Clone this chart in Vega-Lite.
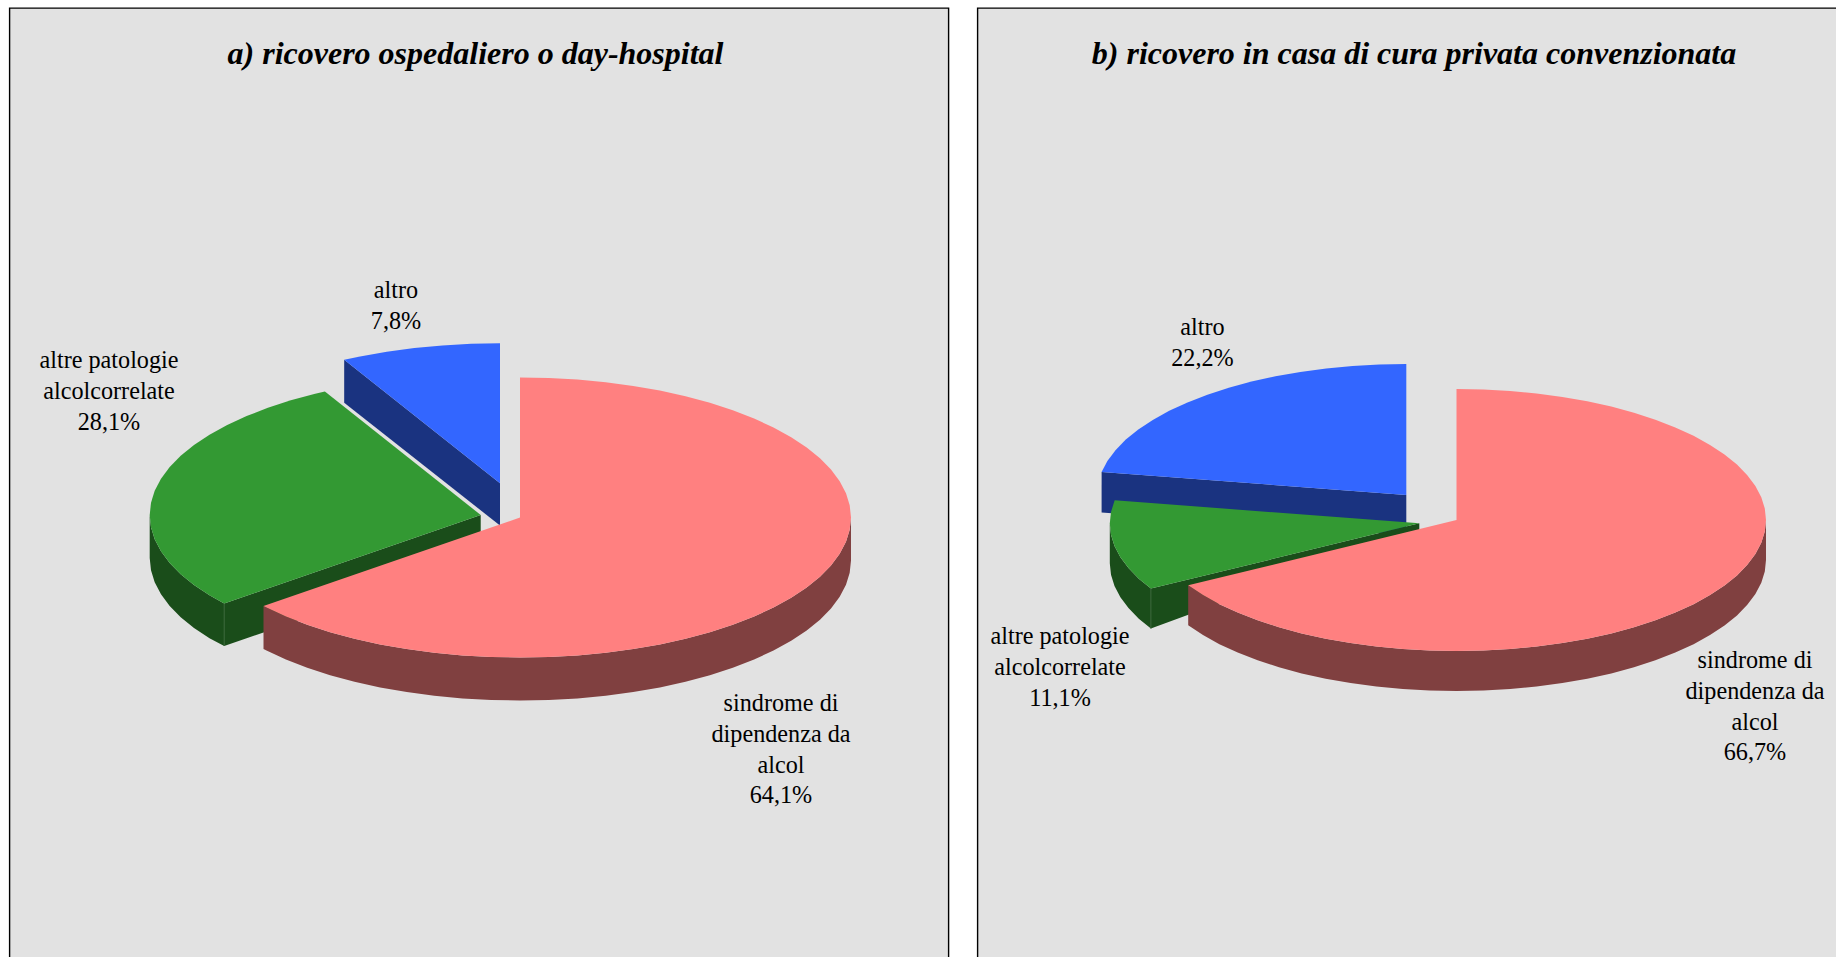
{
"$schema":"https://vega.github.io/schema/vega-lite/v6.json",
"padding":{"left":8.5,"top":7,"right":0,"bottom":0},
"background":"white",
"spacing":27,
"config":{"view":{"fill":"#E2E2E2","stroke":"#000000","strokeWidth":1.4},"concat":{"spacing":27}},
"datasets":{
"fette":[
{"p":"a","f":"altro","n":0,"x":500,"y":483.3},{"p":"a","f":"altro","n":1,"x":344.2,"y":359.8},{"p":"a","f":"altro","n":2,"x":360.1,"y":356.4},{"p":"a","f":"altro","n":3,"x":386.8,"y":351.7},{"p":"a","f":"altro","n":4,"x":414.3,"y":348.1},{"p":"a","f":"altro","n":5,"x":442.5,"y":345.4},{"p":"a","f":"altro","n":6,"x":471.1,"y":343.8},{"p":"a","f":"altro","n":7,"x":500,"y":343.3},
{"p":"a","f":"patologie","n":0,"x":480.7,"y":515},{"p":"a","f":"patologie","n":1,"x":224.2,"y":603.5},{"p":"a","f":"patologie","n":2,"x":209.5,"y":595.3},{"p":"a","f":"patologie","n":3,"x":194,"y":585},{"p":"a","f":"patologie","n":4,"x":180.7,"y":574.2},{"p":"a","f":"patologie","n":5,"x":169.7,"y":562.9},{"p":"a","f":"patologie","n":6,"x":161,"y":551.2},{"p":"a","f":"patologie","n":7,"x":154.7,"y":539.3},{"p":"a","f":"patologie","n":8,"x":151,"y":527.2},{"p":"a","f":"patologie","n":9,"x":149.7,"y":515},{"p":"a","f":"patologie","n":10,"x":151,"y":502.8},{"p":"a","f":"patologie","n":11,"x":154.7,"y":490.7},{"p":"a","f":"patologie","n":12,"x":161,"y":478.8},{"p":"a","f":"patologie","n":13,"x":169.7,"y":467.1},{"p":"a","f":"patologie","n":14,"x":180.7,"y":455.8},{"p":"a","f":"patologie","n":15,"x":194,"y":445},{"p":"a","f":"patologie","n":16,"x":209.5,"y":434.7},{"p":"a","f":"patologie","n":17,"x":227.2,"y":425},{"p":"a","f":"patologie","n":18,"x":246.6,"y":416},{"p":"a","f":"patologie","n":19,"x":267.9,"y":407.8},{"p":"a","f":"patologie","n":20,"x":290.8,"y":400.3},{"p":"a","f":"patologie","n":21,"x":315.2,"y":393.8},{"p":"a","f":"patologie","n":22,"x":324.9,"y":391.5},
{"p":"a","f":"sindrome","n":0,"x":520,"y":517.5},{"p":"a","f":"sindrome","n":1,"x":520,"y":377.5},{"p":"a","f":"sindrome","n":2,"x":548.9,"y":378},{"p":"a","f":"sindrome","n":3,"x":577.5,"y":379.6},{"p":"a","f":"sindrome","n":4,"x":605.7,"y":382.3},{"p":"a","f":"sindrome","n":5,"x":633.2,"y":385.9},{"p":"a","f":"sindrome","n":6,"x":659.9,"y":390.6},{"p":"a","f":"sindrome","n":7,"x":685.5,"y":396.3},{"p":"a","f":"sindrome","n":8,"x":709.9,"y":402.8},{"p":"a","f":"sindrome","n":9,"x":732.8,"y":410.3},{"p":"a","f":"sindrome","n":10,"x":754.1,"y":418.5},{"p":"a","f":"sindrome","n":11,"x":773.5,"y":427.5},{"p":"a","f":"sindrome","n":12,"x":791.2,"y":437.2},{"p":"a","f":"sindrome","n":13,"x":806.7,"y":447.5},{"p":"a","f":"sindrome","n":14,"x":820,"y":458.3},{"p":"a","f":"sindrome","n":15,"x":831,"y":469.6},{"p":"a","f":"sindrome","n":16,"x":839.7,"y":481.3},{"p":"a","f":"sindrome","n":17,"x":846,"y":493.2},{"p":"a","f":"sindrome","n":18,"x":849.7,"y":505.3},{"p":"a","f":"sindrome","n":19,"x":851,"y":517.5},{"p":"a","f":"sindrome","n":20,"x":849.7,"y":529.7},{"p":"a","f":"sindrome","n":21,"x":846,"y":541.8},{"p":"a","f":"sindrome","n":22,"x":839.7,"y":553.7},{"p":"a","f":"sindrome","n":23,"x":831,"y":565.4},{"p":"a","f":"sindrome","n":24,"x":820,"y":576.7},{"p":"a","f":"sindrome","n":25,"x":806.7,"y":587.5},{"p":"a","f":"sindrome","n":26,"x":791.2,"y":597.8},{"p":"a","f":"sindrome","n":27,"x":773.5,"y":607.5},{"p":"a","f":"sindrome","n":28,"x":754.1,"y":616.5},{"p":"a","f":"sindrome","n":29,"x":732.8,"y":624.7},{"p":"a","f":"sindrome","n":30,"x":709.9,"y":632.2},{"p":"a","f":"sindrome","n":31,"x":685.5,"y":638.7},{"p":"a","f":"sindrome","n":32,"x":659.9,"y":644.4},{"p":"a","f":"sindrome","n":33,"x":633.2,"y":649.1},{"p":"a","f":"sindrome","n":34,"x":605.7,"y":652.7},{"p":"a","f":"sindrome","n":35,"x":577.5,"y":655.4},{"p":"a","f":"sindrome","n":36,"x":548.9,"y":657},{"p":"a","f":"sindrome","n":37,"x":520,"y":657.5},{"p":"a","f":"sindrome","n":38,"x":491.1,"y":657},{"p":"a","f":"sindrome","n":39,"x":462.5,"y":655.4},{"p":"a","f":"sindrome","n":40,"x":434.3,"y":652.7},{"p":"a","f":"sindrome","n":41,"x":406.8,"y":649.1},{"p":"a","f":"sindrome","n":42,"x":380.1,"y":644.4},{"p":"a","f":"sindrome","n":43,"x":354.5,"y":638.7},{"p":"a","f":"sindrome","n":44,"x":330.1,"y":632.2},{"p":"a","f":"sindrome","n":45,"x":307.2,"y":624.7},{"p":"a","f":"sindrome","n":46,"x":285.9,"y":616.5},{"p":"a","f":"sindrome","n":47,"x":266.5,"y":607.5},{"p":"a","f":"sindrome","n":48,"x":263.5,"y":606},
{"p":"b","f":"altro","n":0,"x":1406.3,"y":495},{"p":"b","f":"altro","n":1,"x":1101.6,"y":472},{"p":"b","f":"altro","n":2,"x":1107.4,"y":461.1},{"p":"b","f":"altro","n":3,"x":1115.5,"y":450.2},{"p":"b","f":"altro","n":4,"x":1125.8,"y":439.6},{"p":"b","f":"altro","n":5,"x":1138.3,"y":429.5},{"p":"b","f":"altro","n":6,"x":1152.8,"y":419.9},{"p":"b","f":"altro","n":7,"x":1169.2,"y":410.8},{"p":"b","f":"altro","n":8,"x":1187.5,"y":402.4},{"p":"b","f":"altro","n":9,"x":1207.4,"y":394.7},{"p":"b","f":"altro","n":10,"x":1228.8,"y":387.7},{"p":"b","f":"altro","n":11,"x":1251.5,"y":381.6},{"p":"b","f":"altro","n":12,"x":1275.5,"y":376.3},{"p":"b","f":"altro","n":13,"x":1300.4,"y":371.9},{"p":"b","f":"altro","n":14,"x":1326.2,"y":368.5},{"p":"b","f":"altro","n":15,"x":1352.6,"y":366},{"p":"b","f":"altro","n":16,"x":1379.3,"y":364.5},{"p":"b","f":"altro","n":17,"x":1406.3,"y":364},
{"p":"b","f":"patologie","n":0,"x":1419.3,"y":523.3},{"p":"b","f":"patologie","n":1,"x":1150.9,"y":588.6},{"p":"b","f":"patologie","n":2,"x":1138.8,"y":578.7},{"p":"b","f":"patologie","n":3,"x":1128.5,"y":568.1},{"p":"b","f":"patologie","n":4,"x":1120.4,"y":557.2},{"p":"b","f":"patologie","n":5,"x":1114.5,"y":546},{"p":"b","f":"patologie","n":6,"x":1111,"y":534.7},{"p":"b","f":"patologie","n":7,"x":1109.8,"y":523.3},{"p":"b","f":"patologie","n":8,"x":1111,"y":511.9},{"p":"b","f":"patologie","n":9,"x":1114.7,"y":500.3},
{"p":"b","f":"sindrome","n":0,"x":1456.5,"y":520},{"p":"b","f":"sindrome","n":1,"x":1456.5,"y":389},{"p":"b","f":"sindrome","n":2,"x":1483.5,"y":389.5},{"p":"b","f":"sindrome","n":3,"x":1510.2,"y":391},{"p":"b","f":"sindrome","n":4,"x":1536.6,"y":393.5},{"p":"b","f":"sindrome","n":5,"x":1562.4,"y":396.9},{"p":"b","f":"sindrome","n":6,"x":1587.3,"y":401.3},{"p":"b","f":"sindrome","n":7,"x":1611.3,"y":406.6},{"p":"b","f":"sindrome","n":8,"x":1634,"y":412.7},{"p":"b","f":"sindrome","n":9,"x":1655.4,"y":419.7},{"p":"b","f":"sindrome","n":10,"x":1675.3,"y":427.4},{"p":"b","f":"sindrome","n":11,"x":1693.6,"y":435.8},{"p":"b","f":"sindrome","n":12,"x":1710,"y":444.9},{"p":"b","f":"sindrome","n":13,"x":1724.5,"y":454.5},{"p":"b","f":"sindrome","n":14,"x":1737,"y":464.6},{"p":"b","f":"sindrome","n":15,"x":1747.3,"y":475.2},{"p":"b","f":"sindrome","n":16,"x":1755.4,"y":486.1},{"p":"b","f":"sindrome","n":17,"x":1761.3,"y":497.3},{"p":"b","f":"sindrome","n":18,"x":1764.8,"y":508.6},{"p":"b","f":"sindrome","n":19,"x":1766,"y":520},{"p":"b","f":"sindrome","n":20,"x":1764.8,"y":531.4},{"p":"b","f":"sindrome","n":21,"x":1761.3,"y":542.7},{"p":"b","f":"sindrome","n":22,"x":1755.4,"y":553.9},{"p":"b","f":"sindrome","n":23,"x":1747.3,"y":564.8},{"p":"b","f":"sindrome","n":24,"x":1737,"y":575.4},{"p":"b","f":"sindrome","n":25,"x":1724.5,"y":585.5},{"p":"b","f":"sindrome","n":26,"x":1710,"y":595.1},{"p":"b","f":"sindrome","n":27,"x":1693.6,"y":604.2},{"p":"b","f":"sindrome","n":28,"x":1675.3,"y":612.6},{"p":"b","f":"sindrome","n":29,"x":1655.4,"y":620.3},{"p":"b","f":"sindrome","n":30,"x":1634,"y":627.3},{"p":"b","f":"sindrome","n":31,"x":1611.3,"y":633.4},{"p":"b","f":"sindrome","n":32,"x":1587.3,"y":638.7},{"p":"b","f":"sindrome","n":33,"x":1562.4,"y":643.1},{"p":"b","f":"sindrome","n":34,"x":1536.6,"y":646.5},{"p":"b","f":"sindrome","n":35,"x":1510.2,"y":649},{"p":"b","f":"sindrome","n":36,"x":1483.5,"y":650.5},{"p":"b","f":"sindrome","n":37,"x":1456.5,"y":651},{"p":"b","f":"sindrome","n":38,"x":1429.5,"y":650.5},{"p":"b","f":"sindrome","n":39,"x":1402.8,"y":649},{"p":"b","f":"sindrome","n":40,"x":1376.4,"y":646.5},{"p":"b","f":"sindrome","n":41,"x":1350.6,"y":643.1},{"p":"b","f":"sindrome","n":42,"x":1325.7,"y":638.7},{"p":"b","f":"sindrome","n":43,"x":1301.7,"y":633.4},{"p":"b","f":"sindrome","n":44,"x":1279,"y":627.3},{"p":"b","f":"sindrome","n":45,"x":1257.6,"y":620.3},{"p":"b","f":"sindrome","n":46,"x":1237.7,"y":612.6},{"p":"b","f":"sindrome","n":47,"x":1219.4,"y":604.2},{"p":"b","f":"sindrome","n":48,"x":1203,"y":595.1},{"p":"b","f":"sindrome","n":49,"x":1188.2,"y":585.3}
],
"lati":[
{"p":"a","f":"altro lato","x":344.2,"y":359.8,"y2":402.8},{"p":"a","f":"altro lato","x":500,"y":483.3,"y2":525.5},
{"p":"a","f":"patologie lato","x":149.7,"y":515,"y2":558},{"p":"a","f":"patologie lato","x":151,"y":527.2,"y2":570.2},{"p":"a","f":"patologie lato","x":154.7,"y":539.3,"y2":582.3},{"p":"a","f":"patologie lato","x":161,"y":551.2,"y2":594.2},{"p":"a","f":"patologie lato","x":169.7,"y":562.9,"y2":605.9},{"p":"a","f":"patologie lato","x":180.7,"y":574.2,"y2":617.2},{"p":"a","f":"patologie lato","x":194,"y":585,"y2":628},{"p":"a","f":"patologie lato","x":209.5,"y":595.3,"y2":638.3},{"p":"a","f":"patologie lato","x":224.2,"y":603.5,"y2":646},{"p":"a","f":"patologie lato","x":480.7,"y":515,"y2":558},
{"p":"a","f":"sindrome lato","x":263.5,"y":606,"y2":649},{"p":"a","f":"sindrome lato","x":266.5,"y":607.5,"y2":650.5},{"p":"a","f":"sindrome lato","x":285.9,"y":616.5,"y2":659.5},{"p":"a","f":"sindrome lato","x":307.2,"y":624.7,"y2":667.7},{"p":"a","f":"sindrome lato","x":330.1,"y":632.2,"y2":675.2},{"p":"a","f":"sindrome lato","x":354.5,"y":638.7,"y2":681.7},{"p":"a","f":"sindrome lato","x":380.1,"y":644.4,"y2":687.4},{"p":"a","f":"sindrome lato","x":406.8,"y":649.1,"y2":692.1},{"p":"a","f":"sindrome lato","x":434.3,"y":652.7,"y2":695.7},{"p":"a","f":"sindrome lato","x":462.5,"y":655.4,"y2":698.4},{"p":"a","f":"sindrome lato","x":491.1,"y":657,"y2":700},{"p":"a","f":"sindrome lato","x":520,"y":657.5,"y2":700.5},{"p":"a","f":"sindrome lato","x":548.9,"y":657,"y2":700},{"p":"a","f":"sindrome lato","x":577.5,"y":655.4,"y2":698.4},{"p":"a","f":"sindrome lato","x":605.7,"y":652.7,"y2":695.7},{"p":"a","f":"sindrome lato","x":633.2,"y":649.1,"y2":692.1},{"p":"a","f":"sindrome lato","x":659.9,"y":644.4,"y2":687.4},{"p":"a","f":"sindrome lato","x":685.5,"y":638.7,"y2":681.7},{"p":"a","f":"sindrome lato","x":709.9,"y":632.2,"y2":675.2},{"p":"a","f":"sindrome lato","x":732.8,"y":624.7,"y2":667.7},{"p":"a","f":"sindrome lato","x":754.1,"y":616.5,"y2":659.5},{"p":"a","f":"sindrome lato","x":773.5,"y":607.5,"y2":650.5},{"p":"a","f":"sindrome lato","x":791.2,"y":597.8,"y2":640.8},{"p":"a","f":"sindrome lato","x":806.7,"y":587.5,"y2":630.5},{"p":"a","f":"sindrome lato","x":820,"y":576.7,"y2":619.7},{"p":"a","f":"sindrome lato","x":831,"y":565.4,"y2":608.4},{"p":"a","f":"sindrome lato","x":839.7,"y":553.7,"y2":596.7},{"p":"a","f":"sindrome lato","x":846,"y":541.8,"y2":584.8},{"p":"a","f":"sindrome lato","x":849.7,"y":529.7,"y2":572.7},{"p":"a","f":"sindrome lato","x":851,"y":517.5,"y2":560.5},
{"p":"b","f":"altro lato","x":1101.6,"y":472,"y2":512.5},{"p":"b","f":"altro lato","x":1406.3,"y":495,"y2":535},
{"p":"b","f":"patologie lato","x":1109.8,"y":523.3,"y2":563.3},{"p":"b","f":"patologie lato","x":1111,"y":534.7,"y2":574.7},{"p":"b","f":"patologie lato","x":1114.5,"y":546,"y2":586},{"p":"b","f":"patologie lato","x":1120.4,"y":557.2,"y2":597.2},{"p":"b","f":"patologie lato","x":1128.5,"y":568.1,"y2":608.1},{"p":"b","f":"patologie lato","x":1138.8,"y":578.7,"y2":618.7},{"p":"b","f":"patologie lato","x":1150.9,"y":588.6,"y2":628.6},{"p":"b","f":"patologie lato","x":1419.3,"y":523.3,"y2":530},
{"p":"b","f":"sindrome lato","x":1188.2,"y":585.3,"y2":625.3},{"p":"b","f":"sindrome lato","x":1203,"y":595.1,"y2":635.1},{"p":"b","f":"sindrome lato","x":1219.4,"y":604.2,"y2":644.2},{"p":"b","f":"sindrome lato","x":1237.7,"y":612.6,"y2":652.6},{"p":"b","f":"sindrome lato","x":1257.6,"y":620.3,"y2":660.3},{"p":"b","f":"sindrome lato","x":1279,"y":627.3,"y2":667.3},{"p":"b","f":"sindrome lato","x":1301.7,"y":633.4,"y2":673.4},{"p":"b","f":"sindrome lato","x":1325.7,"y":638.7,"y2":678.7},{"p":"b","f":"sindrome lato","x":1350.6,"y":643.1,"y2":683.1},{"p":"b","f":"sindrome lato","x":1376.4,"y":646.5,"y2":686.5},{"p":"b","f":"sindrome lato","x":1402.8,"y":649,"y2":689},{"p":"b","f":"sindrome lato","x":1429.5,"y":650.5,"y2":690.5},{"p":"b","f":"sindrome lato","x":1456.5,"y":651,"y2":691},{"p":"b","f":"sindrome lato","x":1483.5,"y":650.5,"y2":690.5},{"p":"b","f":"sindrome lato","x":1510.2,"y":649,"y2":689},{"p":"b","f":"sindrome lato","x":1536.6,"y":646.5,"y2":686.5},{"p":"b","f":"sindrome lato","x":1562.4,"y":643.1,"y2":683.1},{"p":"b","f":"sindrome lato","x":1587.3,"y":638.7,"y2":678.7},{"p":"b","f":"sindrome lato","x":1611.3,"y":633.4,"y2":673.4},{"p":"b","f":"sindrome lato","x":1634,"y":627.3,"y2":667.3},{"p":"b","f":"sindrome lato","x":1655.4,"y":620.3,"y2":660.3},{"p":"b","f":"sindrome lato","x":1675.3,"y":612.6,"y2":652.6},{"p":"b","f":"sindrome lato","x":1693.6,"y":604.2,"y2":644.2},{"p":"b","f":"sindrome lato","x":1710,"y":595.1,"y2":635.1},{"p":"b","f":"sindrome lato","x":1724.5,"y":585.5,"y2":625.5},{"p":"b","f":"sindrome lato","x":1737,"y":575.4,"y2":615.4},{"p":"b","f":"sindrome lato","x":1747.3,"y":564.8,"y2":604.8},{"p":"b","f":"sindrome lato","x":1755.4,"y":553.9,"y2":593.9},{"p":"b","f":"sindrome lato","x":1761.3,"y":542.7,"y2":582.7},{"p":"b","f":"sindrome lato","x":1764.8,"y":531.4,"y2":571.4},{"p":"b","f":"sindrome lato","x":1766,"y":520,"y2":560}
],
"spigoli":[
{"p":"a","x":224.2,"y":603.5,"y2":646},
{"p":"b","x":1150.9,"y":588.6,"y2":628.6}
],
"etichette":[
{"p":"a","t":"altro\n7,8%","quota":7.8,"x":396,"y":298},
{"p":"a","t":"altre patologie\nalcolcorrelate\n28,1%","quota":28.1,"x":109,"y":368},
{"p":"a","t":"sindrome di\ndipendenza da\nalcol\n64,1%","quota":64.1,"x":781,"y":711},
{"p":"b","t":"altro\n22,2%","quota":22.2,"x":1202.5,"y":335},
{"p":"b","t":"altre patologie\nalcolcorrelate\n11,1%","quota":11.1,"x":1060,"y":644},
{"p":"b","t":"sindrome di\ndipendenza da\nalcol\n66,7%","quota":66.7,"x":1755,"y":668}
]
},
"hconcat":[
{"width":939,"height":1000,
"title":{"text":"a) ricovero ospedaliero o day-hospital","font":"Liberation Serif","fontStyle":"italic","fontWeight":"bold","fontSize":32,"color":"#000000","anchor":"middle","frame":"group","offset":-63,"dx":-3.5},
"layer":[
{"data":{"name":"lati"},"transform":[{"filter":"datum.p==='a'"}],"mark":{"type":"area","stroke":null,"interpolate":"linear"},
"encoding":{"x":{"field":"x","type":"quantitative","axis":null,"scale":{"domain":[9.5,948.5],"nice":false,"zero":false}},"y":{"field":"y","type":"quantitative","axis":null,"scale":{"domain":[8,1008],"reverse":true,"nice":false,"zero":false}},"y2":{"field":"y2"},"fill":{"field":"f","type":"nominal","legend":null,"scale":{"domain":["altro lato","patologie lato","sindrome lato","altro","patologie","sindrome"],"range":["#1A3380","#1A4D1A","#804040","#3366FF","#339933","#FF8080"]}}}},
{"data":{"name":"spigoli"},"transform":[{"filter":"datum.p==='a'"}],"mark":{"type":"rule","stroke":"#3F6A3F","strokeWidth":1},
"encoding":{"x":{"field":"x","type":"quantitative"},"y":{"field":"y","type":"quantitative"},"y2":{"field":"y2"}}},
{"data":{"name":"fette"},"transform":[{"filter":"datum.p==='a'"}],"mark":{"type":"line","strokeWidth":0,"interpolate":"linear-closed"},
"encoding":{"x":{"field":"x","type":"quantitative"},"y":{"field":"y","type":"quantitative"},"order":{"field":"n","type":"quantitative"},"fill":{"field":"f","type":"nominal"},"detail":{"field":"f"}}},
{"data":{"name":"etichette"},"transform":[{"filter":"datum.p==='a'"}],"mark":{"type":"text","font":"Liberation Serif","fontSize":24.2,"lineBreak":"\n","lineHeight":30.8,"align":"center","baseline":"alphabetic","color":"#000000"},
"encoding":{"x":{"field":"x","type":"quantitative"},"y":{"field":"y","type":"quantitative"},"text":{"field":"t"}}}
]},
{"width":880,"height":1000,
"title":{"text":"b) ricovero in casa di cura privata convenzionata","font":"Liberation Serif","fontStyle":"italic","fontWeight":"bold","fontSize":32,"color":"#000000","anchor":"middle","frame":"group","offset":-63,"dx":-3.5},
"layer":[
{"data":{"name":"lati"},"transform":[{"filter":"datum.p==='b'"}],"mark":{"type":"area","stroke":null,"interpolate":"linear"},
"encoding":{"x":{"field":"x","type":"quantitative","axis":null,"scale":{"domain":[977.5,1857.5],"nice":false,"zero":false}},"y":{"field":"y","type":"quantitative","axis":null,"scale":{"domain":[8,1008],"reverse":true,"nice":false,"zero":false}},"y2":{"field":"y2"},"fill":{"field":"f","type":"nominal","legend":null,"scale":{"domain":["altro lato","patologie lato","sindrome lato","altro","patologie","sindrome"],"range":["#1A3380","#1A4D1A","#804040","#3366FF","#339933","#FF8080"]}}}},
{"data":{"name":"spigoli"},"transform":[{"filter":"datum.p==='b'"}],"mark":{"type":"rule","stroke":"#3F6A3F","strokeWidth":1},
"encoding":{"x":{"field":"x","type":"quantitative"},"y":{"field":"y","type":"quantitative"},"y2":{"field":"y2"}}},
{"data":{"name":"fette"},"transform":[{"filter":"datum.p==='b'"}],"mark":{"type":"line","strokeWidth":0,"interpolate":"linear-closed"},
"encoding":{"x":{"field":"x","type":"quantitative"},"y":{"field":"y","type":"quantitative"},"order":{"field":"n","type":"quantitative"},"fill":{"field":"f","type":"nominal"},"detail":{"field":"f"}}},
{"data":{"name":"etichette"},"transform":[{"filter":"datum.p==='b'"}],"mark":{"type":"text","font":"Liberation Serif","fontSize":24.2,"lineBreak":"\n","lineHeight":30.8,"align":"center","baseline":"alphabetic","color":"#000000"},
"encoding":{"x":{"field":"x","type":"quantitative"},"y":{"field":"y","type":"quantitative"},"text":{"field":"t"}}}
]}
]
}
